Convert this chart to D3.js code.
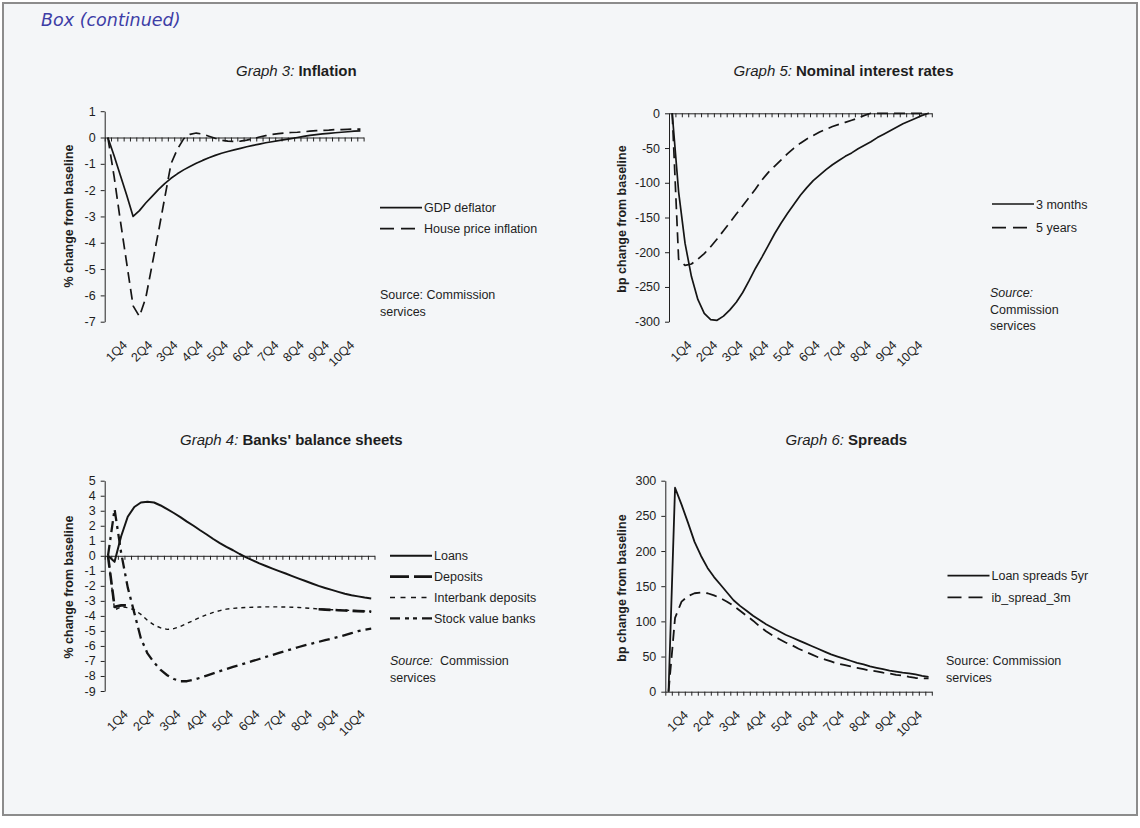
<!DOCTYPE html>
<html>
<head>
<meta charset="utf-8">
<script src="https://cdn.jsdelivr.net/npm/d3@7"></script>
<style>
  body { margin: 0; background: #fff; }
  text { font-family: "Liberation Sans", Arial, sans-serif; fill: #1e1e1e; }
</style>
</head>
<body>
<svg id="chart" width="1140" height="828"></svg>
<script>
// categories: quarters 1Q1 .. 10Q4 plus one extra period
var quarters = [];
for (var yr = 1; yr <= 10; yr++) for (var q = 1; q <= 4; q++) quarters.push(yr + "Q" + q);
quarters.push("11Q1");
var tickLabels = ["1Q4", "2Q4", "3Q4", "4Q4", "5Q4", "6Q4", "7Q4", "8Q4", "9Q4", "10Q4"];

// Graph 3: Inflation (%)
var inflationTicks = [1, 0, -1, -2, -3, -4, -5, -6, -7];
var gdpDeflator = [0, -0.7, -1.45, -2.2, -3.0, -2.78, -2.49, -2.24, -1.98, -1.75, -1.55, -1.38, -1.23, -1.1, -0.98,
  -0.87, -0.77, -0.68, -0.6, -0.53, -0.47, -0.41, -0.35, -0.3, -0.25, -0.2, -0.16, -0.12, -0.08, -0.04, 0.0,
  0.04, 0.08, 0.11, 0.14, 0.16, 0.18, 0.2, 0.22, 0.24, 0.25];
var housePrice = [0, -1.5, -3.2, -4.8, -6.4, -6.8, -6.1, -4.85, -3.6, -2.3, -1.0, -0.45, -0.05, 0.12, 0.17,
  0.13, 0.05, -0.03, -0.1, -0.14, -0.15, -0.14, -0.1, -0.05, 0.02, 0.07, 0.12, 0.15, 0.17, 0.19, 0.2,
  0.22, 0.24, 0.26, 0.27, 0.28, 0.3, 0.3, 0.31, 0.32, 0.32];

// Graph 5: Nominal interest rates (bp)
var ratesTicks = [0, -50, -100, -150, -200, -250, -300];
var rate3m = [0, -113, -187, -235, -268, -288, -297, -298, -292, -283, -272, -258, -241, -223, -207,
  -190, -173, -158, -144, -131, -118, -107, -97, -89, -81, -74, -68, -62, -57, -51, -46,
  -41, -35, -30, -25, -20, -15, -11, -7, -3, 0];
var rate5y = [0, -210, -219, -217, -210, -202, -192, -181, -169, -157, -145, -133, -121, -109, -96,
  -85, -76, -67, -58, -50, -43, -37, -32, -27, -23, -19, -16, -13, -10, -7, -3,
  0, 0, 0, 0, 0, 0, 0, 0, 0, 0];

// Graph 4: Banks' balance sheets (%)
var banksTicks = [5, 4, 3, 2, 1, 0, -1, -2, -3, -4, -5, -6, -7, -8, -9];
var loans = [0, -0.4, 1.3, 2.6, 3.25, 3.55, 3.6, 3.55, 3.35, 3.1, 2.85, 2.58, 2.28, 2.0, 1.7,
  1.42, 1.12, 0.85, 0.6, 0.37, 0.12, -0.1, -0.3, -0.5, -0.68, -0.85, -1.02, -1.18, -1.35, -1.52, -1.68,
  -1.84, -2.0, -2.14, -2.27, -2.4, -2.52, -2.62, -2.7, -2.78, -2.84];
var deposits = [0, -3.4, -3.3, -3.3, null, null, null, null, null, null, null, null, null, null, null,
  null, null, null, null, null, null, null, null, null, null, null, null, null, null, null, null,
  null, -3.56, -3.58, -3.6, -3.62, -3.64, -3.66, -3.68, -3.7, -3.72];
var interbank = [0, -3.6, -3.4, -3.45, -3.6, -3.9, -4.3, -4.6, -4.8, -4.9, -4.85, -4.7, -4.5, -4.3, -4.1,
  -3.92, -3.77, -3.65, -3.55, -3.5, -3.46, -3.44, -3.42, -3.41, -3.4, -3.4, -3.4, -3.41, -3.42, -3.44, -3.47,
  -3.5, -3.54, -3.57, -3.59, -3.6, -3.62, -3.64, -3.66, -3.68, -3.7];
var stockValue = [0, 3.1, 0.2, -2.1, -3.8, -5.5, -6.5, -7.1, -7.6, -7.95, -8.2, -8.35, -8.35, -8.25, -8.12,
  -7.98, -7.83, -7.68, -7.54, -7.4, -7.27, -7.14, -7.0, -6.87, -6.73, -6.6, -6.46, -6.33, -6.2, -6.07, -5.95,
  -5.84, -5.73, -5.62, -5.51, -5.4, -5.28, -5.15, -5.02, -4.92, -4.85];

// Graph 6: Spreads (bp)
var spreadTicks = [0, 50, 100, 150, 200, 250, 300];
var loanSpread5y = [0, 290, 266, 240, 213, 193, 176, 163, 152, 141, 130, 122, 115, 108, 102,
  96, 91, 86, 81, 77, 73, 69, 65, 61, 57, 53, 50, 47, 44, 41, 39,
  36, 34, 32, 30, 28.5, 27, 26, 24.5, 22.5, 21];
var ibSpread3m = [0, 105, 128, 136, 140, 141, 140, 137, 133, 128, 122, 115, 108, 101, 93,
  86, 80, 75, 70, 66, 61, 57, 53, 49, 46, 43, 40, 38, 36, 34, 32,
  30, 29, 27, 26, 24, 23, 21, 19.5, 19, 19];

var svg = d3.select("#chart");

//frame
svg.append("rect").attr("x", 0).attr("y", 0).attr("width", 1140).attr("height", 828).attr("fill", "#fff");
svg.append("rect")
  .attr("x", 3).attr("y", 3).attr("width", 1134).attr("height", 812)
  .attr("fill", "#f4f6f8").attr("stroke", "#8c8c8c").attr("stroke-width", 2);

svg.append("text")
  .attr("x", 41).attr("y", 26)
  .style("font-family", "'DejaVu Sans', sans-serif")
  .style("font-style", "italic")
  .style("font-size", "17.5px")
  .style("fill", "#3d3da6")
  .text("Box (continued)");

var panels = [
  {
    prefix: "Graph 3:", title: "Inflation", tx: 236, ty: 76,
    xr: [104.7, 363.6], yd: [-7, 1], yr: [321.7, 111.2], ticks: inflationTicks,
    yTitle: "% change from baseline", ytx: 69, yty: 216,
    series: [
      { name: "GDP deflator", values: gdpDeflator, w: 1.7, dash: null },
      { name: "House price inflation", values: housePrice, w: 1.7, dash: "11,6", ldash: "14,7" }
    ],
    lx: 380, ly: [207.7, 228.7],
    src: { x: 380, y: 299, lines: [[["Source: Commission", false]], [["services", false]]] }
  },
  {
    prefix: "Graph 5:", title: "Nominal interest rates", tx: 733.6, ty: 76,
    xr: [669, 931.8], yd: [-300, 0], yr: [321.7, 113.3], ticks: ratesTicks,
    yTitle: "bp change from baseline", ytx: 621.5, yty: 219,
    series: [
      { name: "3 months", values: rate3m, w: 1.7, dash: null },
      { name: "5 years", values: rate5y, w: 1.7, dash: "11,6", ldash: "14,7" }
    ],
    lx: 992, ly: [204, 227.7],
    src: { x: 990, y: 297, lines: [[["Source:", true]], [["Commission", false]], [["services", false]]] }
  },
  {
    prefix: "Graph 4:", title: "Banks' balance sheets", tx: 180, ty: 445,
    xr: [104.7, 374.5], yd: [-9, 5], yr: [691, 480.7], ticks: banksTicks,
    yTitle: "% change from baseline", ytx: 69, yty: 587,
    series: [
      { name: "Loans", values: loans, w: 2, dash: null },
      { name: "Deposits", values: deposits, w: 2.6, dash: "12,5", ldash: "19,5" },
      { name: "Interbank deposits", values: interbank, w: 1.4, dash: "4,4", ldash: "5,5.5" },
      { name: "Stock value banks", values: stockValue, w: 2.3, dash: "11,5,3,5", ldash: "10,5,4,4,4,5" }
    ],
    lx: 390, ly: [555.7, 576.6, 597.5, 618.4],
    src: { x: 390, y: 665, lines: [[["Source:", true], ["  Commission", false]], [["services", false]]] }
  },
  {
    prefix: "Graph 6:", title: "Spreads", tx: 785.6, ty: 445,
    xr: [665.3, 931.8], yd: [0, 300], yr: [691.7, 480.7], ticks: spreadTicks,
    yTitle: "bp change from baseline", ytx: 622, yty: 588,
    series: [
      { name: "Loan spreads 5yr", values: loanSpread5y, w: 1.8, dash: null },
      { name: "ib_spread_3m", values: ibSpread3m, w: 1.8, dash: "11,6", ldash: "14,7" }
    ],
    lx: 947.5, ly: [575.7, 597.3],
    src: { x: 946, y: 665, lines: [[["Source: Commission", false]], [["services", false]]] }
  }
];

panels.forEach(drawPanel);

function drawPanel(p) {
  var n = quarters.length;
  var g = svg.append("g");

  // boundary scale for ticks, points sit in the middle of each category
  var xb = d3.scaleLinear().domain([0, n]).range(p.xr);
  var y = d3.scaleLinear().domain(p.yd).range(p.yr);

  // title
  var t = g.append("text").attr("x", p.tx).attr("y", p.ty).style("font-size", "15px");
  t.append("tspan").style("font-style", "italic").text(p.prefix);
  t.append("tspan").attr("dx", 4).style("font-weight", "bold").text(p.title);

  // y axis
  var yAxis = g.append("g")
    .attr("transform", `translate(${p.xr[0]},0)`)
    .call(d3.axisLeft(y).tickValues(p.ticks).tickSize(4).tickSizeOuter(0).tickPadding(5).tickFormat(d => String(d)));
  yAxis.selectAll("text").style("font-size", "12.5px").style("font-family", "'Liberation Sans', Arial, sans-serif").attr("fill", "#1e1e1e");
  yAxis.selectAll("line, path").attr("stroke", "#222");

  // x axis (crosses at 0)
  var xAxis = g.append("g")
    .attr("transform", `translate(0,${y(0)})`)
    .call(d3.axisBottom(xb).tickValues(d3.range(n + 1)).tickSize(4).tickSizeOuter(0).tickFormat(""));
  xAxis.selectAll("line, path").attr("stroke", "#222");

  // category labels at the bottom of the plot
  tickLabels.forEach(function (lab) {
    var i = quarters.indexOf(lab);
    var cx = xb(i + 0.5);
    g.append("text")
      .attr("transform", `translate(${cx + 1},${p.yr[0] + 24}) rotate(-45)`)
      .attr("text-anchor", "end")
      .style("font-size", "12.5px")
      .text(lab);
  });

  // y axis title
  g.append("text")
    .attr("transform", `translate(${p.ytx},${p.yty}) rotate(-90)`)
    .attr("text-anchor", "middle")
    .attr("dy", "0.35em")
    .style("font-size", "12.5px")
    .style("font-weight", "bold")
    .text(p.yTitle);

  // lines
  var line = d3.line()
    .defined(d => d != null)
    .x((d, i) => xb(i + 0.5))
    .y(d => y(d));

  p.series.forEach(function (s) {
    g.append("path")
      .datum(s.values)
      .attr("d", line)
      .attr("fill", "none")
      .attr("stroke", "#151515")
      .attr("stroke-width", s.w)
      .attr("stroke-linejoin", "round")
      .attr("stroke-dasharray", s.dash);
  });

  // legend
  p.series.forEach(function (s, k) {
    var ly = p.ly[k];
    g.append("line")
      .attr("x1", p.lx).attr("x2", p.lx + 42)
      .attr("y1", ly).attr("y2", ly)
      .attr("stroke", "#151515")
      .attr("stroke-width", s.w)
      .attr("stroke-dasharray", s.ldash || null);
    g.append("text")
      .attr("x", p.lx + 44).attr("y", ly + 4.5)
      .style("font-size", "12.5px")
      .text(s.name);
  });

  // source note
  p.src.lines.forEach(function (parts, k) {
    var st = g.append("text")
      .attr("x", p.src.x).attr("y", p.src.y + k * 16.5)
      .attr("xml:space", "preserve")
      .style("font-size", "12.5px");
    parts.forEach(function (pt) {
      st.append("tspan").style("font-style", pt[1] ? "italic" : "normal").text(pt[0]);
    });
  });
}
</script>
</body>
</html>
